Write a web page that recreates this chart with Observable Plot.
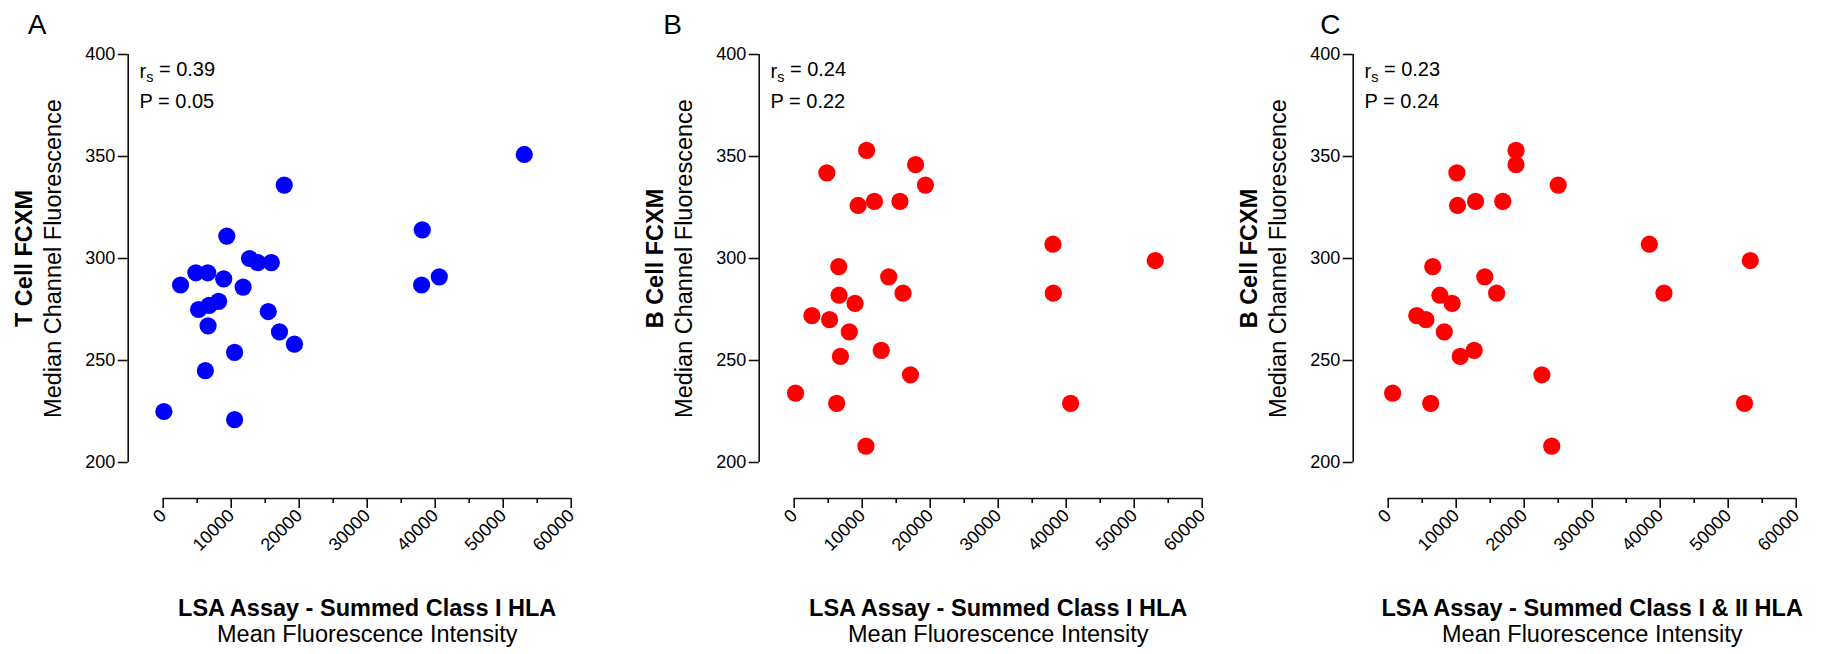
<!DOCTYPE html>
<html><head><meta charset="utf-8">
<script src="https://cdn.jsdelivr.net/npm/d3@7"></script>
<script src="https://cdn.jsdelivr.net/npm/@observablehq/plot@0.6"></script>
<style>
html,body{margin:0;padding:0;background:#fff;}
#wrap{position:relative;width:1821px;height:654px;overflow:hidden;}
#wrap svg{position:absolute;top:0;}
</style></head><body><div id="wrap"></div>
<script>
// ---- data ----
const tCellMFI = [17800, 38100, 9350, 12700, 13900, 15900, 4800, 6550, 8900, 2550, 11750, 38000, 40600, 8150, 6750, 5200, 15450, 6600, 17100, 19300, 10500, 6200, 100, 10500, 53100];
const tCellMCF = [336, 314, 311, 300, 298, 298, 293, 293, 290, 287, 286, 287, 291, 279, 277, 275, 274, 267, 264, 258, 254, 245, 225, 221, 351];

const bCellMFIclassI = [10650, 17850, 4800, 19300, 11800, 15550, 9400, 6550, 13900, 6600, 16000, 8950, 2600, 5200, 8100, 12800, 6800, 17100, 200, 6250, 10550, 38050, 38100, 53100, 40650];
const bCellMCF_B = [353, 346, 342, 336, 328, 328, 326, 296, 291, 282, 283, 278, 272, 270, 264, 255, 252, 243, 234, 229, 208, 307, 283, 299, 229];

const bCellMFIclassI_II = [18800, 18800, 10100, 25000, 12850, 16850, 10200, 6550, 14200, 7600, 15950, 9400, 4200, 5550, 8250, 12650, 10600, 22600, 650, 6250, 24050, 38400, 40550, 53250, 52400];
const bCellMCF_C = [353, 346, 342, 336, 328, 328, 326, 296, 291, 282, 283, 278, 272, 270, 264, 255, 252, 243, 234, 229, 208, 307, 283, 299, 229];

const yTicks = [200, 250, 300, 350, 400];
const xMajorTicks = [0, 10000, 20000, 30000, 40000, 50000, 60000];
const xMinorTicks = [5000, 15000, 25000, 35000, 45000, 55000];

const panelLetters = ["A", "B", "C"];
const yTitlesBold = ["T Cell FCXM", "B Cell FCXM", "B Cell FCXM"];
const yTitleSub = "Median Channel Fluorescence";
const xTitlesBold = ["LSA Assay - Summed Class I HLA", "LSA Assay - Summed Class I HLA", "LSA Assay - Summed Class I & II HLA"];
const xTitleSub = "Mean Fluorescence Intensity";
const rsValues = ["0.39", "0.24", "0.23"];
const pValues = ["0.05", "0.22", "0.24"];
const colors = ["#0000ff", "#ff0000", "#ff0000"];

// ---- layout ----
const FONT = '"Liberation Sans", Arial, Helvetica, sans-serif';
const W = 590, ML = 162.7, FRAME = 408;
const panels = [
  {left: 0, xs: tCellMFI, ys: tCellMCF, letterDx: -135.4},
  {left: 631.3, xs: bCellMFIclassI, ys: bCellMCF_B, letterDx: -131},
  {left: 1224.6, xs: bCellMFIclassI_II, ys: bCellMCF_C, letterDx: -68}
];

const wrap = document.getElementById("wrap");
const axisStroke = "#111";

panels.forEach((p, i) => {
  const data = p.xs.map((x, j) => ({x, y: p.ys[j]}));
  const svg = Plot.plot({
    width: W, height: 654,
    marginLeft: ML, marginRight: W - ML - FRAME, marginTop: 54, marginBottom: 192,
    x: {domain: [0, 60000]},
    y: {domain: [200, 400]},
    style: {fontFamily: FONT, fontSize: "18px", background: "transparent", color: "#000", overflow: "visible"},
    marks: [
      Plot.ruleX([0], {y1: 200, y2: 400, dx: -35, stroke: axisStroke, strokeWidth: 1.6}),
      Plot.axisY({ticks: yTicks, dx: -35, tickSize: 10, tickPadding: 3, fontSize: 18, stroke: axisStroke, strokeWidth: 1.6, fill: "#000", label: null, tickFormat: d => String(d)}),
      Plot.ruleY([200], {x1: 0, x2: 60000, dy: 36, stroke: axisStroke, strokeWidth: 1.6}),
      Plot.axisX({ticks: xMajorTicks, dy: 36, tickSize: 10, tickRotate: -45, tickPadding: 4, fontSize: 18, stroke: axisStroke, strokeWidth: 1.6, fill: "#000", label: null, tickFormat: d => String(d)}),
      Plot.axisX({ticks: xMinorTicks, dy: 36, tickSize: 5, stroke: axisStroke, strokeWidth: 1.6, fill: "none", label: null}),
      Plot.dot(data, {x: "x", y: "y", r: 8.6, fill: colors[i], stroke: "none"}),
      Plot.text([panelLetters[i]], {text: d => d, frameAnchor: "top-left", dx: p.letterDx, dy: -29.7, textAnchor: "start", lineAnchor: "middle", fontSize: 28, fill: "#000"}),
      Plot.text([`rs = ${rsValues[i]}`], {text: d => d, frameAnchor: "top-left", dx: -23.7, dy: 16.9, textAnchor: "start", lineAnchor: "middle", fontSize: 20, fill: "#000"}),
      Plot.text([`P = ${pValues[i]}`], {text: d => d, frameAnchor: "top-left", dx: -23.7, dy: 46.9, textAnchor: "start", lineAnchor: "middle", fontSize: 20, fill: "#000"}),
      Plot.text([yTitlesBold[i]], {text: d => d, frameAnchor: "left", rotate: -90, dx: -138.5, textAnchor: "middle", lineAnchor: "middle", fontSize: 23.5, fontWeight: "bold", fill: "#000"}),
      Plot.text([yTitleSub], {text: d => d, frameAnchor: "left", rotate: -90, dx: -110.1, textAnchor: "middle", lineAnchor: "middle", fontSize: 23.5, fill: "#000"}),
      Plot.text([xTitlesBold[i]], {text: d => d, frameAnchor: "bottom", dy: 145.5, textAnchor: "middle", lineAnchor: "middle", fontSize: 23.5, fontWeight: "bold", fill: "#000"}),
      Plot.text([xTitleSub], {text: d => d, frameAnchor: "bottom", dy: 172.2, textAnchor: "middle", lineAnchor: "middle", fontSize: 23.5, fill: "#000"})
    ]
  });
  svg.style.left = p.left + "px";
  // subscript for r_s
  d3.select(svg).selectAll("text").each(function() {
    const t = this.textContent;
    if (/^rs = /.test(t)) {
      const rest = t.slice(2);
      const sel = d3.select(this);
      sel.text(null);
      sel.append("tspan").text("r");
      sel.append("tspan").attr("dy", "0.3em").attr("font-size", "0.72em").text("s");
      sel.append("tspan").attr("dy", "-0.3em").text(rest);
    }
  });
  wrap.appendChild(svg);
});
</script>
</body></html>
